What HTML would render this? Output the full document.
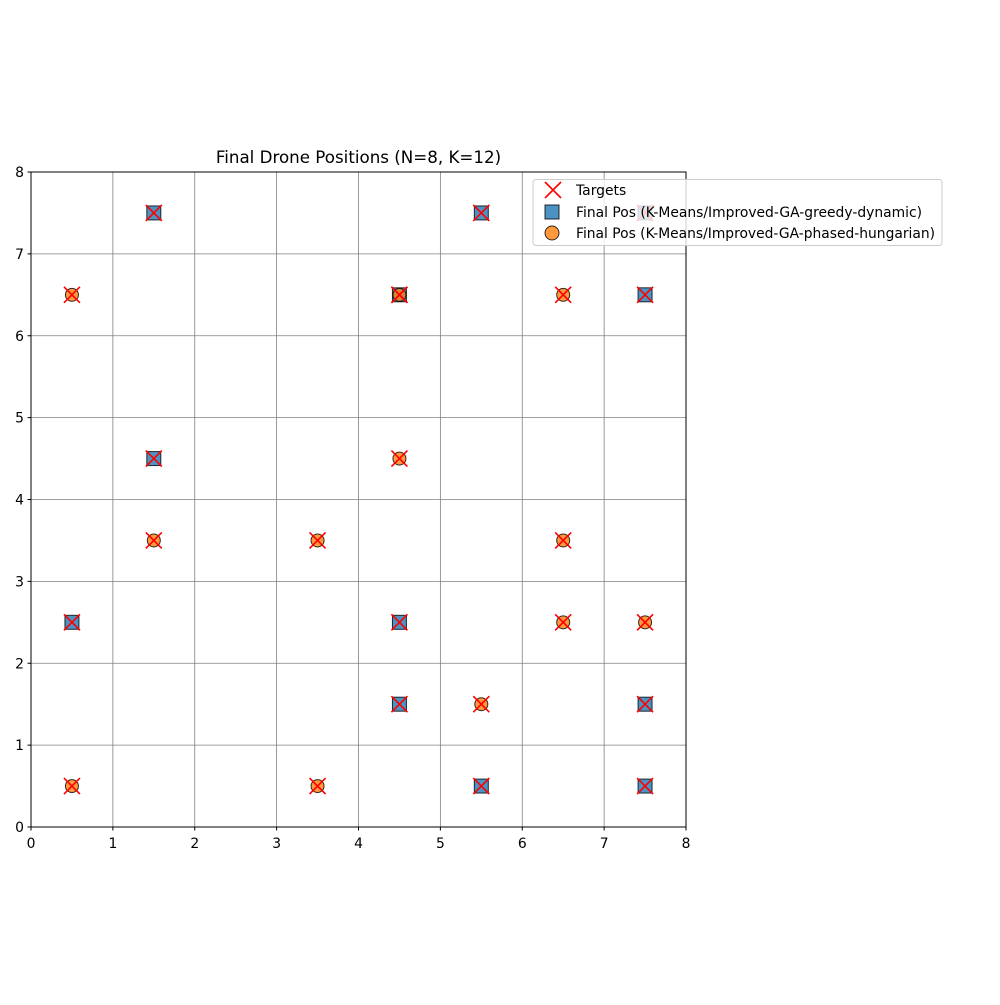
<!DOCTYPE html>
<html><head><meta charset="utf-8"><style>
body{margin:0;background:#fff}
text{font-family:"DejaVu Sans","Liberation Sans",sans-serif;font-size:13.9px;fill:#000}
</style></head><body>
<svg id="chart" width="1000" height="1000" xmlns="http://www.w3.org/2000/svg">
<rect width="1000" height="1000" fill="#fff"/>
<g id="grid"></g>
<g id="marks"></g>
<rect x="31" y="172" width="655" height="655" fill="none" stroke="#000" stroke-width="1"/>
<g id="ticks"></g>
<text x="358.5" y="163" text-anchor="middle" font-size="16.7" style="font-size:16.7px">Final Drone Positions (N=8, K=12)</text>
<g>
<rect x="533" y="179.5" width="409" height="66" rx="3" fill="#fff" fill-opacity="0.8" stroke="#ccc" stroke-width="1"/>
<g>
<path d="M545,182 L561,198 M561,182 L545,198" stroke="#f00" stroke-width="1.6"/>
<text x="576" y="195">Targets</text></g>
<g>
<rect x="545" y="205" width="14" height="14" fill="#1f77b4" fill-opacity="0.8" stroke="#000" stroke-opacity="0.8"/>
<text x="576" y="217" textLength="346" lengthAdjust="spacingAndGlyphs">Final Pos (K-Means/Improved-GA-greedy-dynamic)</text></g>
<g>
<circle cx="552" cy="233" r="7" fill="#ff7f0e" fill-opacity="0.8" stroke="#000" stroke-opacity="0.8"/>
<text x="576" y="238" textLength="359" lengthAdjust="spacingAndGlyphs">Final Pos (K-Means/Improved-GA-phased-hungarian)</text></g>
</g>
</svg>
<script>
const ticks=[0,1,2,3,4,5,6,7,8];
const squaresX=[1.5,5.5,7.5,4.5,7.5,1.5,0.5,4.5,4.5,7.5,5.5,7.5];
const squaresY=[7.5,7.5,7.5,6.5,6.5,4.5,2.5,2.5,1.5,1.5,0.5,0.5];
const circlesX=[0.5,4.5,6.5,4.5,1.5,3.5,6.5,6.5,7.5,5.5,0.5,3.5];
const circlesY=[6.5,6.5,6.5,4.5,3.5,3.5,3.5,2.5,2.5,1.5,0.5,0.5];
const targetsX=squaresX.concat(circlesX);
const targetsY=squaresY.concat(circlesY);
const NS="http://www.w3.org/2000/svg";
const sx=v=>31+v*655/8, sy=v=>827-v*655/8;
function mk(t,a,p){const e=document.createElementNS(NS,t);for(const k in a)e.setAttribute(k,a[k]);p.appendChild(e);return e;}
const grid=document.getElementById('grid'),tk=document.getElementById('ticks'),mg=document.getElementById('marks');
ticks.forEach(t=>{
 let g=mk('line',{x1:sx(t),x2:sx(t),y1:172,y2:827,stroke:'#808080','stroke-width':0.8},grid);
 
 
 g=mk('line',{x1:31,x2:686,y1:sy(t),y2:sy(t),stroke:'#808080','stroke-width':0.8},grid);
 
 
 mk('line',{x1:sx(t),x2:sx(t),y1:827,y2:830.5,stroke:'#000'},tk);
 mk('line',{x1:27.5,x2:31,y1:sy(t),y2:sy(t),stroke:'#000'},tk);
 let l=mk('text',{x:sx(t),y:848,'text-anchor':'middle'},tk);l.textContent=t;
 
 
 l=mk('text',{x:24,y:sy(t)+5,'text-anchor':'end'},tk);l.textContent=t;
 
 
});
squaresX.forEach((x,i)=>{
 const e=mk('rect',{x:sx(x)-7,y:sy(squaresY[i])-7,width:14,height:14,fill:'#1f77b4','fill-opacity':0.8,stroke:'#000','stroke-opacity':0.8},mg);
 
 
});
circlesX.forEach((x,i)=>{
 const e=mk('circle',{cx:sx(x),cy:sy(circlesY[i]),r:6.5,fill:'#ff7f0e','fill-opacity':0.8,stroke:'#000','stroke-opacity':0.8},mg);
 
 
});
targetsX.forEach((x,i)=>{
 const cx=sx(x),cy=sy(targetsY[i]);
 const e=mk('path',{d:`M${cx-8},${cy-8}L${cx+8},${cy+8}M${cx+8},${cy-8}L${cx-8},${cy+8}`,stroke:'#f00','stroke-width':1.6},mg);
 
 
});
</script>
</body></html>
